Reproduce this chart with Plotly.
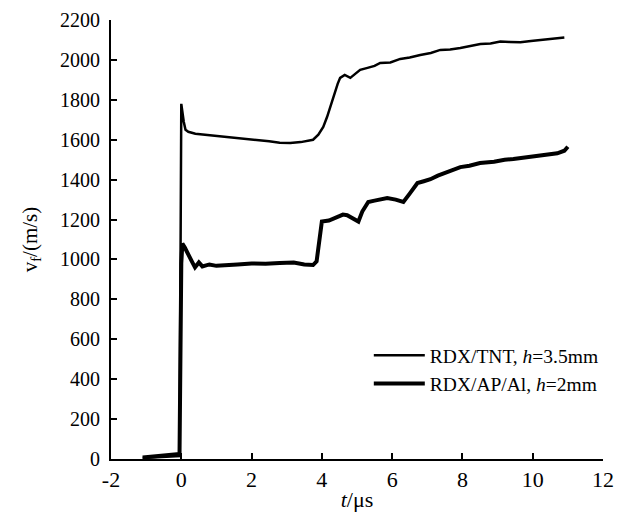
import plotly.graph_objects as go

# RDX/TNT, h=3.5mm
t_tnt = [-1.1, -0.8, -0.5, -0.2, -0.05, 0.0, 0.03, 0.07, 0.12, 0.2, 0.4, 0.7, 1.0, 1.5, 2.0,
         2.5, 2.8, 3.1, 3.4, 3.6, 3.75, 3.9, 4.04, 4.15, 4.24, 4.35, 4.45, 4.52, 4.65,
         4.81, 4.95, 5.09, 5.3, 5.5, 5.66, 5.95, 6.23, 6.5, 6.8, 7.1, 7.37, 7.65, 7.94,
         8.2, 8.51, 8.8, 9.08, 9.35, 9.65, 9.95, 10.22, 10.5, 10.7, 10.9]
v_tnt = [5, 8, 10, 12, 15, 1780, 1740, 1690, 1650, 1640, 1630, 1625, 1618, 1610, 1600,
         1592, 1585, 1584, 1588, 1594, 1600, 1625, 1664, 1715, 1764, 1830, 1880, 1910, 1925,
         1910, 1930, 1950, 1960, 1970, 1985, 1987, 2005, 2012, 2025, 2035, 2050, 2052, 2060,
         2068, 2080, 2082, 2092, 2090, 2088, 2095, 2100, 2105, 2108, 2112]

# RDX/AP/Al, h=2mm
t_al = [-1.1, -0.8, -0.5, -0.2, -0.05, 0.0, 0.03, 0.1, 0.2, 0.3, 0.39, 0.5, 0.6, 0.8, 1.0,
        1.3, 1.6, 2.0, 2.4, 2.8, 3.2, 3.5, 3.75, 3.85, 3.92, 4.0, 4.2, 4.4, 4.6, 4.72,
        4.9, 5.04, 5.15, 5.32, 5.5, 5.7, 5.86, 6.1, 6.32, 6.5, 6.72, 6.9, 7.09, 7.3,
        7.6, 7.94, 8.2, 8.5, 8.9, 9.2, 9.45, 9.8, 10.1, 10.4, 10.7, 10.9, 11.0]
v_al = [8, 12, 15, 20, 25, 980, 1080, 1060, 1020, 990, 960, 985, 965, 975, 968,
        970, 975, 980, 978, 982, 985, 975, 972, 990, 1100, 1190, 1195, 1210, 1225, 1222,
        1205, 1190, 1240, 1288, 1295, 1300, 1308, 1300, 1288, 1330, 1383, 1392, 1402, 1420,
        1440, 1463, 1470, 1483, 1490, 1500, 1503, 1510, 1518, 1523, 1532, 1545, 1565]

x_ticks = [-2, 0, 2, 4, 6, 8, 10, 12]
y_ticks = [0, 200, 400, 600, 800, 1000, 1200, 1400, 1600, 1800, 2000, 2200]

font_family = "Liberation Serif"

fig = go.Figure()
fig.add_trace(go.Scatter(x=t_tnt, y=v_tnt, mode="lines", name="RDX/TNT, <i>h</i>=3.5mm",
                         line=dict(color="black", width=2.5)))
fig.add_trace(go.Scatter(x=t_al, y=v_al, mode="lines", name="RDX/AP/Al, <i>h</i>=2mm",
                         line=dict(color="black", width=4)))

fig.update_layout(
    width=621, height=517,
    margin=dict(l=111, r=18, t=20, b=58),
    plot_bgcolor="white", paper_bgcolor="white",
    font=dict(family=font_family, size=20, color="black"),
    showlegend=True,
    legend=dict(x=0.524, y=0.28, xanchor="left", yanchor="top",
                bgcolor="rgba(0,0,0,0)", font=dict(size=19.5, family=font_family),
                itemwidth=51),
    xaxis=dict(range=[-2, 12], tickvals=x_ticks, ticktext=[str(v) for v in x_ticks],
               showgrid=False, zeroline=False, showline=True, linecolor="black",
               linewidth=2, ticks="inside", ticklen=6, tickwidth=1.5, tickcolor="black",
               tickfont=dict(size=22), automargin=False,
               title=dict(text="<i>t</i>/μs", font=dict(size=22), standoff=0)),
    yaxis=dict(range=[0, 2200], tickvals=y_ticks, ticktext=[str(v) for v in y_ticks],
               showgrid=False, zeroline=False, showline=True, linecolor="black",
               linewidth=2, ticks="inside", ticklen=6, tickwidth=1.5, tickcolor="black",
               tickfont=dict(size=20), automargin=False, ticklabelstandoff=5,
               title=dict(text="v<sub>f</sub>/(m/s)", font=dict(size=21), standoff=17)),
)

fig.write_html("out.html", config={"displayModeBar": False},
               post_script="document.body.style.margin='0';document.body.style.overflow='hidden';")
